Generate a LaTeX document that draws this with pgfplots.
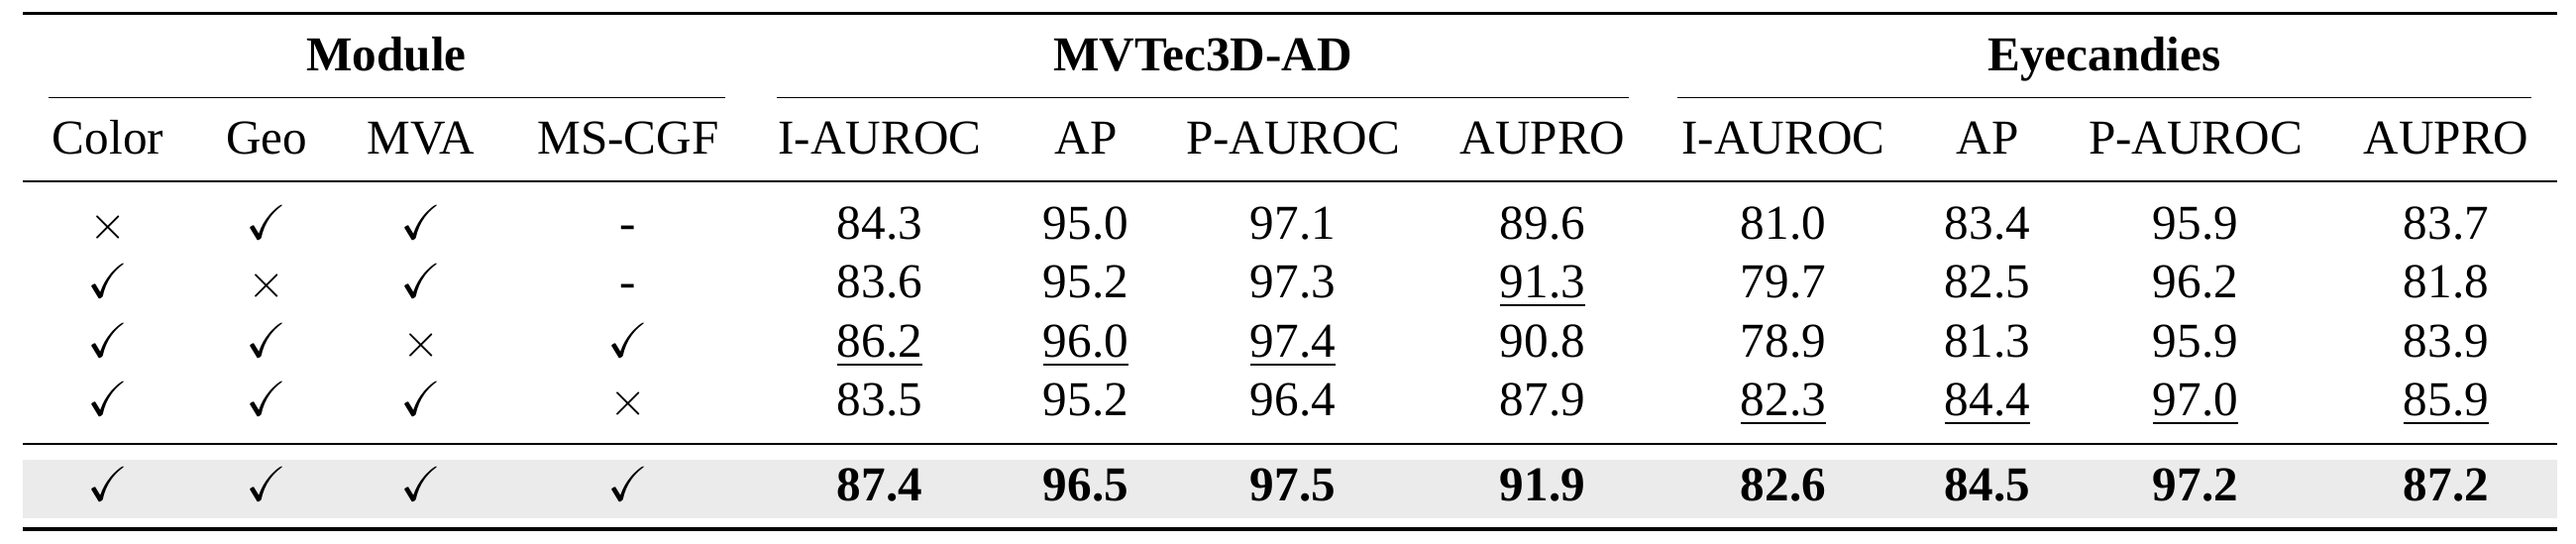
\documentclass[border=0pt]{standalone}
\usepackage{amssymb}
\usepackage{fontspec}
\setmainfont{Liberation Serif}
\usepackage{pgfplots}
\usepackage{pgfplotstable}
\pgfplotsset{compat=1.18}
\newcommand{\cm}{$\checkmark$}
\newcommand{\xm}{$\times$}
\newcommand{\ul}[1]{\underline{#1}}
\newcommand{\bb}[1]{\textbf{#1}}
\newcommand{\tf}{\fontsize{12.3}{14}\selectfont}
\definecolor{band}{RGB}{235,235,235}

\pgfplotstableread{
x y label
390 71.7 \bb{Module}
1214 71.7 \bb{MVTec3D-AD}
2124 71.7 \bb{Eyecandies}
109 155.5 Color
269 155.5 Geo
425 155.5 MVA
634 155.5 MS-CGF
888 155.5 I-AUROC
1096 155.5 AP
1305 155.5 P-AUROC
1557 155.5 AUPRO
1800 155.5 I-AUROC
2006 155.5 AP
2216 155.5 P-AUROC
2469 155.5 AUPRO
}\headers

\pgfplotstableread{
x y label
109 241 \xm
269 241 \cm
425 241 \cm
634 241 -
888 241 84.3
1096 241 95.0
1305 241 97.1
1557 241 89.6
1800 241 81.0
2006 241 83.4
2216 241 95.9
2469 241 83.7
}\rowA

\pgfplotstableread{
x y label
109 300.6 \cm
269 300.6 \xm
425 300.6 \cm
634 300.6 -
888 300.6 83.6
1096 300.6 95.2
1305 300.6 97.3
1557 300.6 \ul{91.3}
1800 300.6 79.7
2006 300.6 82.5
2216 300.6 96.2
2469 300.6 81.8
}\rowB

\pgfplotstableread{
x y label
109 360 \cm
269 360 \cm
425 360 \xm
634 360 \cm
888 360 \ul{86.2}
1096 360 \ul{96.0}
1305 360 \ul{97.4}
1557 360 90.8
1800 360 78.9
2006 360 81.3
2216 360 95.9
2469 360 83.9
}\rowC

\pgfplotstableread{
x y label
109 419.4 \cm
269 419.4 \cm
425 419.4 \cm
634 419.4 \xm
888 419.4 83.5
1096 419.4 95.2
1305 419.4 96.4
1557 419.4 87.9
1800 419.4 \ul{82.3}
2006 419.4 \ul{84.4}
2216 419.4 \ul{97.0}
2469 419.4 \ul{85.9}
}\rowD

\pgfplotstableread{
x y label
109 505 \cm
269 505 \cm
425 505 \cm
634 505 \cm
888 505 \bb{87.4}
1096 505 \bb{96.5}
1305 505 \bb{97.5}
1557 505 \bb{91.9}
1800 505 \bb{82.6}
2006 505 \bb{84.5}
2216 505 \bb{97.2}
2469 505 \bb{87.2}
}\rowE

\begin{document}
\begin{tikzpicture}
\begin{axis}[
  scale only axis, width=650pt, height=137pt,
  xmin=0, xmax=2600, ymin=0, ymax=548, y dir=reverse,
  hide axis, clip=false,
  every node near coord/.style={anchor=base, inner sep=0pt, font=\tf, text=black},
]
\path (axis cs:0,0) rectangle (axis cs:2600,548);
\fill[band] (axis cs:23,464) rectangle (axis cs:2581,523);
\draw[line width=0.875pt] (axis cs:23,13.3) -- (axis cs:2581,13.3);
\draw[line width=0.3pt] (axis cs:49,98.6) -- (axis cs:732,98.6);
\draw[line width=0.3pt] (axis cs:784,98.6) -- (axis cs:1644,98.6);
\draw[line width=0.3pt] (axis cs:1693,98.6) -- (axis cs:2555,98.6);
\draw[line width=0.45pt] (axis cs:23,183) -- (axis cs:2581,183);
\draw[line width=0.5pt] (axis cs:23,448) -- (axis cs:2581,448);
\draw[line width=0.875pt] (axis cs:23,534) -- (axis cs:2581,534);
\addplot[draw=none, mark=none, nodes near coords, point meta=explicit symbolic] table[x=x, y=y, meta=label] {\headers};
\addplot[draw=none, mark=none, nodes near coords, point meta=explicit symbolic] table[x=x, y=y, meta=label] {\rowA};
\addplot[draw=none, mark=none, nodes near coords, point meta=explicit symbolic] table[x=x, y=y, meta=label] {\rowB};
\addplot[draw=none, mark=none, nodes near coords, point meta=explicit symbolic] table[x=x, y=y, meta=label] {\rowC};
\addplot[draw=none, mark=none, nodes near coords, point meta=explicit symbolic] table[x=x, y=y, meta=label] {\rowD};
\addplot[draw=none, mark=none, nodes near coords, point meta=explicit symbolic] table[x=x, y=y, meta=label] {\rowE};
\end{axis}
\end{tikzpicture}
\end{document}
